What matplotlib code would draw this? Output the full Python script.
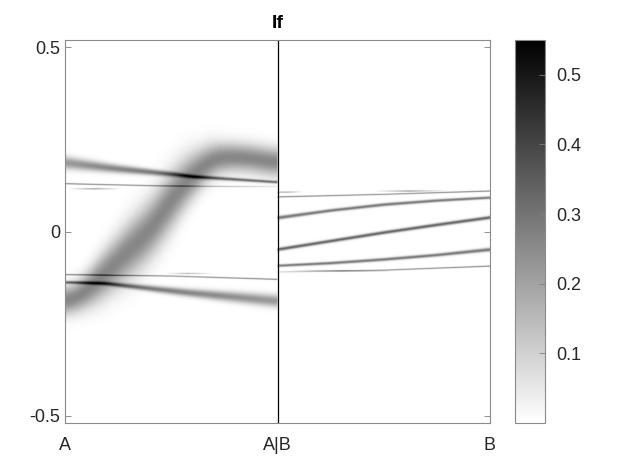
import numpy as np
import matplotlib
matplotlib.use("Agg")
import matplotlib.pyplot as plt

plt.rcParams["font.family"] = ["Liberation Sans", "DejaVu Sans"]

# --- donnees --------------------------------------------------------------
# panneau gauche (A -> A|B), abscisse relative t dans [0, 1]
s_band_t = [0.0, 0.08, 0.164, 0.291, 0.40, 0.493, 0.573, 0.681, 0.752, 0.845, 1.0]
s_band_e = [-0.19, -0.172, -0.128, -0.057, 0.004, 0.079, 0.138, 0.192, 0.202, 0.201, 0.188]
s_band_amp = [0.26, 0.26, 0.26, 0.26, 0.26, 0.26, 0.26, 0.26, 0.26, 0.26, 0.26]
s_band_sig = [0.026, 0.03, 0.042, 0.052, 0.055, 0.055, 0.046, 0.032, 0.027, 0.026, 0.026]

up_band_t = [0.0, 0.235, 0.516, 0.601, 1.0]
up_band_e = [0.187, 0.171, 0.155, 0.149, 0.134]
up_band_amp = [0.22, 0.26, 0.3, 0.32, 0.3]
up_band_sig = [0.012, 0.008, 0.0045, 0.0035, 0.0025]

lo_band_t = [0.0, 0.188, 0.577, 1.0]
lo_band_e = [-0.138, -0.141, -0.166, -0.189]
lo_band_amp = [0.3, 0.32, 0.26, 0.22]
lo_band_sig = [0.0025, 0.0035, 0.0075, 0.012]

thin_up_t = [0.0, 0.446, 0.836, 1.0]
thin_up_e = [0.130, 0.124, 0.122, 0.122]
thin_up_amp = [0.28, 0.25, 0.12, 0.05]

faint_up_t = [0.014, 0.14, 0.268]
faint_up_e = [0.116, 0.116, 0.116]
faint_up_amp = [0.0, 0.25, 0.0]

thin_lo_t = [0.0, 0.5, 1.0]
thin_lo_e = [-0.117, -0.121, -0.130]
thin_lo_amp = [0.28, 0.25, 0.28]

faint_lo_t = [0.47, 0.58, 0.70]
faint_lo_e = [-0.114, -0.114, -0.114]
faint_lo_amp = [0.0, 0.18, 0.0]

# panneau droit (A|B -> B), abscisse relative s dans [0, 1]
band_a_s = [0.0, 0.25, 0.5, 0.75, 1.0]
band_a_e = [0.037, 0.057, 0.073, 0.084, 0.092]
band_a_amp = [0.3, 0.3, 0.3, 0.3, 0.3]
band_a_sig = [0.0035, 0.003, 0.003, 0.0028, 0.0025]

band_b_s = [0.0, 0.25, 0.5, 0.75, 1.0]
band_b_e = [-0.049, -0.026, -0.003, 0.018, 0.038]
band_b_amp = [0.34, 0.34, 0.34, 0.34, 0.34]
band_b_sig = [0.0032, 0.0032, 0.0032, 0.0032, 0.0032]

band_c_s = [0.0, 0.25, 0.5, 0.75, 1.0]
band_c_e = [-0.093, -0.086, -0.076, -0.064, -0.049]
band_c_amp = [0.3, 0.3, 0.3, 0.3, 0.3]
band_c_sig = [0.0025, 0.0028, 0.003, 0.003, 0.0035]

thin_t_s = [0.0, 0.5, 1.0]
thin_t_e = [0.094, 0.101, 0.110]
thin_t_amp = [0.28, 0.25, 0.28]

faint_t_s = [0.0, 0.05, 0.12, 0.45, 0.62, 0.8]
faint_t_e = [0.107, 0.107, 0.108, 0.110, 0.110, 0.111]
faint_t_amp = [0.2, 0.2, 0.0, 0.0, 0.25, 0.0]

thin_b_s = [0.0, 0.5, 1.0]
thin_b_e = [-0.110, -0.105, -0.094]
thin_b_amp = [0.1, 0.25, 0.28]

faint_b_s = [0.05, 0.3, 0.55]
faint_b_e = [-0.106, -0.107, -0.108]
faint_b_amp = [0.0, 0.2, 0.0]

len_right = 1.0             # longueur relative du second segment
e_lim = 0.52
c_max = 0.55
tick_labels = ["A", "A|B", "B"]


def smooth(y, n):
    """Moyenne glissante pour adoucir la courbe lue point par point."""
    if n <= 1:
        return y
    pad = np.pad(y, n, mode="edge")
    out = np.convolve(pad, np.ones(n) / n, mode="same")
    return out[n:-n]


def layer(x, e, xp, ep, amp, sig, n_smooth=1):
    ec = smooth(np.interp(x, xp, ep), n_smooth)
    a = np.interp(x, xp, amp, left=0, right=0)
    if np.ndim(sig):
        s = smooth(np.interp(x, xp, sig), n_smooth)
    else:
        s = np.full_like(x, sig)
    return a[None, :] * np.exp(-0.5 * ((e[:, None] - ec[None, :]) / s[None, :]) ** 2)


n1, n2 = 430, 430
t = (np.arange(n1) + 0.5) / n1
s = (np.arange(n2) + 0.5) / n2
e = np.linspace(-e_lim, e_lim, 1800)
thin = 0.0012

left = (layer(t, e, s_band_t, s_band_e, s_band_amp, s_band_sig, n_smooth=41)
        + layer(t, e, up_band_t, up_band_e, up_band_amp, up_band_sig, n_smooth=21)
        + layer(t, e, lo_band_t, lo_band_e, lo_band_amp, lo_band_sig, n_smooth=21)
        + layer(t, e, thin_up_t, thin_up_e, thin_up_amp, thin)
        + layer(t, e, faint_up_t, faint_up_e, faint_up_amp, thin)
        + layer(t, e, thin_lo_t, thin_lo_e, thin_lo_amp, thin)
        + layer(t, e, faint_lo_t, faint_lo_e, faint_lo_amp, thin))

right = (layer(s, e, band_a_s, band_a_e, band_a_amp, band_a_sig, n_smooth=21)
         + layer(s, e, band_b_s, band_b_e, band_b_amp, band_b_sig)
         + layer(s, e, band_c_s, band_c_e, band_c_amp, band_c_sig, n_smooth=21)
         + layer(s, e, thin_t_s, thin_t_e, thin_t_amp, thin)
         + layer(s, e, faint_t_s, faint_t_e, faint_t_amp, thin)
         + layer(s, e, thin_b_s, thin_b_e, thin_b_amp, thin)
         + layer(s, e, faint_b_s, faint_b_e, faint_b_amp, thin))

img = np.hstack([left, right])
x_end = 1 + len_right

fig = plt.figure(figsize=(6.22, 4.75), dpi=100)
ax = fig.add_axes([65 / 622, 52 / 475, 425 / 622, 383 / 475])
cax = fig.add_axes([515 / 622, 52 / 475, 30 / 622, 383 / 475])

im = ax.imshow(img, origin="lower", aspect="auto", cmap="gray_r",
               extent=[0, x_end, -e_lim, e_lim], vmin=0, vmax=c_max,
               interpolation="antialiased")
ax.axvline(1.0, color="black", lw=0.9)
ax.set_xlim(0, x_end)
ax.set_ylim(-e_lim, e_lim)
ax.set_xticks([0, 1, x_end])
ax.set_xticklabels(tick_labels)
ax.set_yticks([-0.5, 0, 0.5])
ax.set_yticklabels(["-0.5", "0", "0.5"])
ax.tick_params(axis="both", direction="in", length=4, width=0.6, colors="#7f7f7f",
               labelcolor="#262626", labelsize=13, right=True, top=True)
ax.tick_params(axis="x", pad=10)
for sp in ax.spines.values():
    sp.set_color("#8a8a8a")
    sp.set_linewidth(0.8)
ax.set_title("If", fontsize=14, fontweight="bold", pad=9)

cb = fig.colorbar(im, cax=cax, ticks=[0.1, 0.2, 0.3, 0.4, 0.5])
cb.ax.tick_params(direction="in", length=4, width=0.6, colors="#7f7f7f",
                  labelcolor="#262626", labelsize=13, pad=8)
cb.outline.set_edgecolor("#8a8a8a")
cb.outline.set_linewidth(0.8)

fig.savefig("out.png", dpi=100)
